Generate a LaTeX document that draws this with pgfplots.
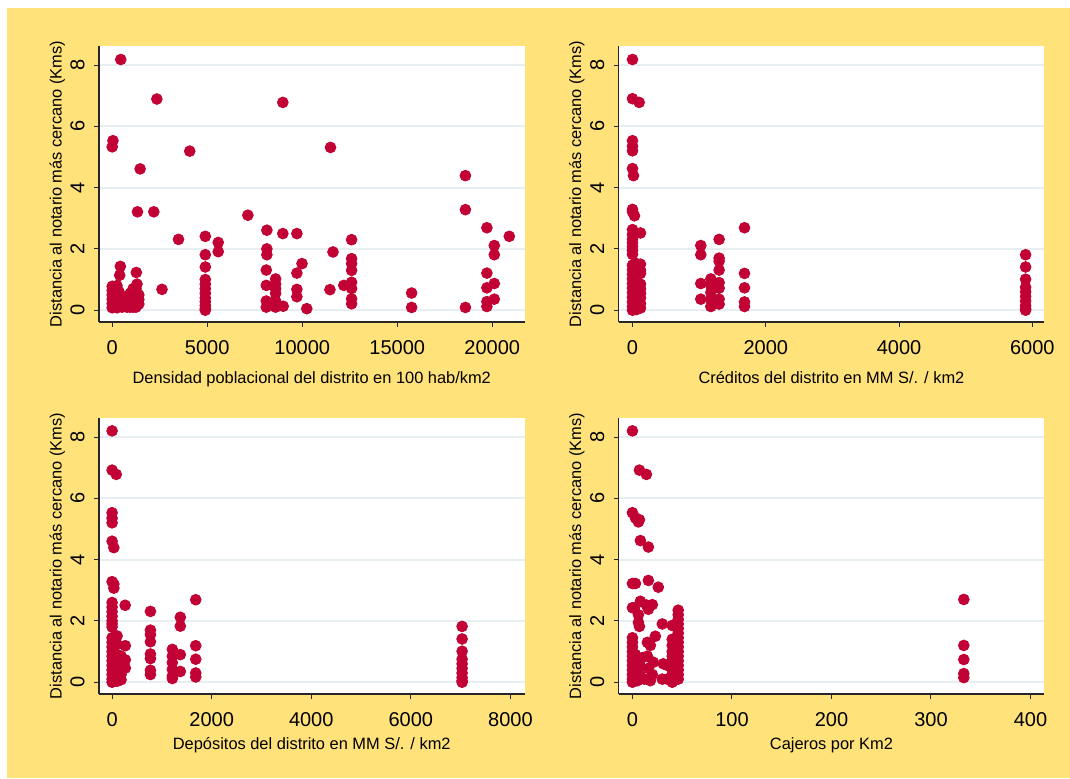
\documentclass[border=0pt]{standalone}
\usepackage{pgfplots}
\pgfplotsset{compat=1.18}
\usepackage{fontspec}
\setmainfont{Liberation Sans}
\definecolor{bgy}{RGB}{255,226,122}
\definecolor{mk}{RGB}{194,2,52}
\definecolor{gridc}{RGB}{230,238,241}
\pgfplotsset{
  stata/.style={
    scale only axis, width=212.75pt, height=138pt,
    axis x line*=bottom, axis y line*=left,
    axis line style={-, line width=0.6pt, black!85},
    axis background/.style={fill=white},
    ymin=-0.385, ymax=8.62, ytick={0,2,4,6,8},
    ymajorgrids, major grid style={gridc, line width=0.9pt},
    tick align=outside, major tick length=2.5pt,
    every tick/.style={black!85, line width=0.5pt},
    /pgf/number format/assume math mode=true,
    /pgf/number format/1000 sep={},
    scaled x ticks=false,
    tick label style={font=\fontsize{10}{12}\selectfont},
    yticklabel style={rotate=90, anchor=base, inner sep=0pt},
    xticklabel style={anchor=base, inner sep=0pt},
    yticklabel shift=4.8pt,
    xticklabel shift=13.5pt,
    label style={font=\fontsize{8.2}{10}\selectfont, inner sep=0pt},
    ylabel style={at={(axis description cs:-0.0881,0.5)}, anchor=base},
    xlabel style={anchor=base},
    ylabel={Distancia al notario más cercano (Kms)},
  },
  dots/.style={only marks, mark=*, mark size=2.7pt, mark options={fill=mk, draw=mk, line width=0.4pt}},
}
\begin{document}
\begin{tikzpicture}[x=1pt,y=1pt]
\fill[white] (0,0) rectangle (535,389);
\fill[bgy] (3.5,0) rectangle (535,385);
\useasboundingbox (0,0) rectangle (535,389);
% ---------------- Panel 1
\begin{axis}[stata, at={(49.5pt,228pt)}, anchor=south west,
  xmin=-695, xmax=21700, xtick={0,5000,10000,15000,20000},
  xlabel={Densidad poblacional del distrito en 100 hab/km2},
  xlabel style={at={(axis description cs:0.5,-0.2221)}}]
\addplot[dots] table {
x y
450 8.18
40 5.53
0 5.33
1470 4.61
1330 3.21
2190 3.21
2350 6.89
4080 5.19
3490 2.31
2620 0.68
428 1.43
395 1.14
1270 1.23
1305 0.85
0 0.08
0 0.22
0 0.36
0 0.5
0 0.64
0 0.78
120 0.15
120 0.3
120 0.45
120 0.6
120 0.75
250 0.08
250 0.22
250 0.36
250 0.5
250 0.64
250 0.8
360 0.12
360 0.3
360 0.45
360 0.6
520 0.1
520 0.3
650 0.15
650 0.4
780 0.1
780 0.25
950 0.1
950 0.25
950 0.4
950 0.55
1100 0.1
1100 0.25
1100 0.4
1100 0.55
1100 0.7
1250 0.1
1250 0.25
1250 0.4
1250 0.55
1250 0.7
1400 0.2
1400 0.35
1400 0.5
4900 2.41
4900 1.81
4900 1.41
4900 1.0
4900 0.85
4900 0.7
4900 0.55
4900 0.4
4900 0.28
4900 0.15
4900 0.05
4900 0.0
5580 2.21
5580 1.91
7140 3.10
8140 2.61
8140 2.0
8140 1.81
8110 1.31
8110 0.81
8110 0.3
8110 0.1
8600 1.02
8600 0.85
8600 0.7
8600 0.55
8600 0.3
8600 0.1
8980 6.78
8980 2.5
9000 0.13
9720 2.5
9720 1.21
9720 0.68
9720 0.44
9990 1.52
10240 0.05
11490 5.31
11460 0.67
11620 1.9
12190 0.81
12600 2.3
12600 1.68
12600 1.52
12600 1.3
12600 0.91
12600 0.71
12600 0.37
12600 0.21
15760 0.56
15760 0.09
18590 4.39
18590 3.28
18590 0.09
19720 2.69
19720 1.21
19720 0.73
19720 0.28
19720 0.12
20110 2.11
20110 1.81
20110 0.87
20110 0.36
20900 2.41
};
\end{axis}
% ---------------- Panel 2
\begin{axis}[stata, at={(309.35pt,228pt)}, anchor=south west,
  xmin=-207, xmax=6179, xtick={0,2000,4000,6000},
  xlabel={Créditos del distrito en MM S/. / km2},
  xlabel style={at={(axis description cs:0.5,-0.2221)}}]
\addplot[dots] table {
x y
0 8.18
0 6.9
100 6.78
0 5.53
0 5.35
0 5.2
0 4.62
15 4.39
0 3.29
0 3.21
30 3.08
0 2.63
120 2.52
0 2.47
0 2.32
0 2.2
0 2.07
0 1.95
0 1.82
0 1.47
0 1.32
0 1.17
0 1.02
0 0.87
0 0.72
0 0.57
0 0.42
0 0.27
0 0.12
0 0.0
60 1.52
60 1.2
60 0.87
60 0.72
60 0.57
60 0.42
60 0.27
60 0.12
60 0.02
120 1.5
120 1.3
120 1.2
120 0.85
120 0.7
120 0.55
120 0.4
120 0.22
120 0.07
1025 2.11
1025 1.81
1025 0.87
1025 0.36
1176 1.02
1176 0.8
1176 0.58
1176 0.35
1176 0.12
1300 2.31
1300 1.7
1300 1.6
1300 1.31
1300 0.9
1300 0.72
1300 0.36
1300 0.2
1681 2.69
1681 1.2
1681 0.73
1681 0.27
1681 0.12
5900 1.81
5900 1.41
5900 1.01
5900 0.75
5900 0.6
5900 0.45
5900 0.3
5900 0.15
5900 0.05
5900 0.0
};
\end{axis}
% ---------------- Panel 3
\begin{axis}[stata, at={(49.5pt,42pt)}, anchor=south west,
  xmin=-263, xmax=8283, xtick={0,2000,4000,6000,8000},
  xlabel={Depósitos del distrito en MM S/. / km2},
  xlabel style={at={(axis description cs:0.5,-0.2018)}}]
\addplot[dots] table {
x y
0 8.2
0 6.92
83 6.78
0 5.53
0 5.35
0 5.2
0 4.6
35 4.39
0 3.28
35 3.2
35 3.07
0 2.6
262 2.51
0 2.45
0 2.3
0 2.15
0 2.0
0 1.9
0 1.8
0 1.45
0 1.3
0 1.15
0 1.0
0 0.85
0 0.7
0 0.55
0 0.4
0 0.25
0 0.1
0 0.0
100 1.51
100 1.23
100 0.9
100 0.75
100 0.6
100 0.45
100 0.3
100 0.15
100 0.03
180 0.85
180 0.65
180 0.45
180 0.25
180 0.08
265 1.19
265 0.73
265 0.46
770 2.31
770 1.7
770 1.55
770 1.32
770 0.92
770 0.77
770 0.39
770 0.25
1210 1.07
1210 0.85
1210 0.64
1210 0.42
1210 0.2
1210 0.12
1370 2.12
1370 1.83
1370 0.9
1370 0.35
1680 2.69
1680 1.19
1680 0.75
1680 0.3
1680 0.17
7030 1.82
7030 1.41
7030 1.01
7030 0.75
7030 0.6
7030 0.45
7030 0.3
7030 0.15
7030 0.05
7030 0.0
};
\end{axis}
% ---------------- Panel 4
\begin{axis}[stata, at={(309.35pt,42pt)}, anchor=south west,
  xmin=-13.8, xmax=413.8, xtick={0,100,200,300,400},
  xlabel={Cajeros por Km2},
  xlabel style={at={(axis description cs:0.5,-0.2018)}}]
\addplot[dots] table {
x y
0 8.2
7 6.92
14 6.78
0 5.53
3 5.36
6 5.23
7 5.3
8 4.62
16 4.41
0 3.22
3 3.22
16 3.32
26 3.1
8 2.64
0 2.43
2 2.42
20 2.53
14 2.52
16 2.38
6 2.2
6 1.95
7 1.82
30 1.9
23 1.5
15 1.3
18 1.2
15 0.85
21 0.65
16 0.45
31 0.6
30 0.1
12 0.1
18 0.05
20 0.25
0 1.45
0 1.3
0 1.15
0 1.0
0 0.85
0 0.7
0 0.55
0 0.4
0 0.25
0 0.1
0 0.0
3 0.9
4 0.6
4 0.3
5 0.05
8 0.2
8 0.5
10 0.8
46 2.35
46 2.2
46 2.05
46 1.9
46 1.75
46 1.6
46 1.45
46 1.3
46 1.15
46 1.0
46 0.85
46 0.7
46 0.55
46 0.4
46 0.25
46 0.1
40 1.85
40 1.4
40 1.2
40 1.0
40 0.85
40 0.7
40 0.55
40 0.4
40 0.25
40 0.1
40 0.0
35 0.55
35 0.1
333 2.7
333 1.2
333 0.74
333 0.28
333 0.15
};
\end{axis}
\end{tikzpicture}
\end{document}
